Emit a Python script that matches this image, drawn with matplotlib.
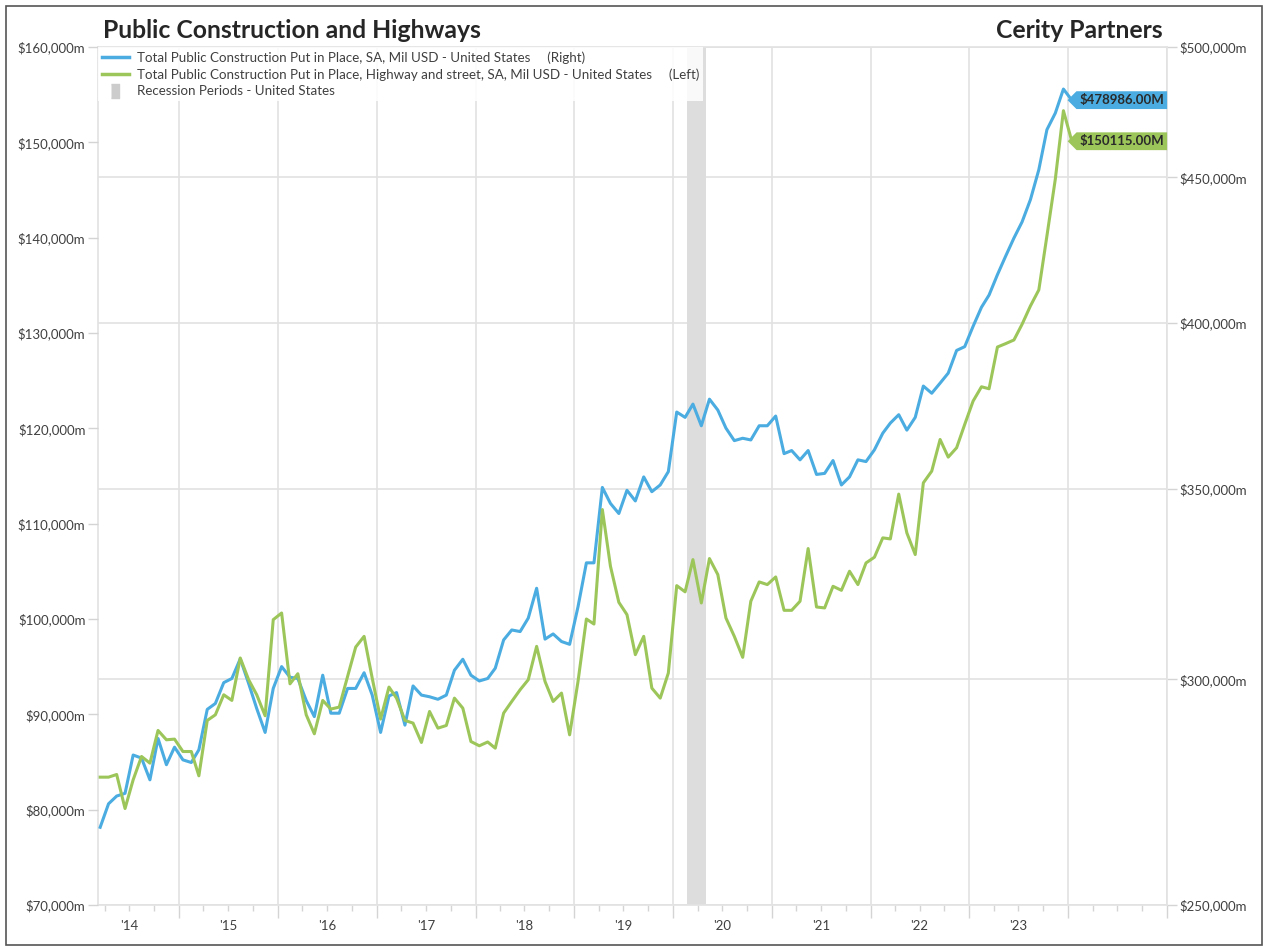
import numpy as np
import pandas as pd
import matplotlib
matplotlib.use('Agg')
import matplotlib.pyplot as plt
import matplotlib.dates as mdates
from matplotlib.lines import Line2D
from matplotlib.patches import Rectangle
from matplotlib.path import Path
from matplotlib.ticker import FixedLocator, FuncFormatter, NullFormatter, NullLocator

plt.rcParams['font.family'] = ['Lato', 'DejaVu Sans']

# monthly data, $ millions, first month Mar 2014
start_month = '2014-03-01'
total_public = [
    266200, 271300, 273000, 273600, 282200, 281500, 276600, 286000, 280000, 284000,
    281100, 280500, 283400, 292800, 294200, 299200, 300200, 305000, 299000, 293000,
    287400, 297800, 303100, 300500, 300200, 294900, 291100, 301000, 291900, 291900,
    297800, 297800, 301600, 296200, 287400, 296000, 296800, 289100, 298400, 296200,
    295800, 295200, 296200, 302200, 304900, 301000, 299600, 300200, 302700, 309700,
    312200, 311800, 315200, 322900, 309900, 311200, 309300, 308600, 318100, 329600,
    329600, 350300, 345800, 343000, 349500, 346500, 353300, 349100, 351000, 354800,
    372300, 370700, 374700, 368200, 376200, 372900, 367500, 363800, 364500, 364000,
    368200, 368200, 371100, 360000, 360900, 358200, 360900, 354000, 354300, 358000,
    351000, 353300, 358200, 357700, 361100, 366000, 369000, 371500, 366900, 370700,
    380200, 378000, 381100, 384200, 391300, 392500, 399000, 405200, 409200, 416000,
    422200, 428500, 434100, 442000, 452800, 467700, 474000, 483300, 478986]
highway_street = [
    83410, 83410, 83690, 80120, 83130, 85580, 84880, 88310, 87330, 87400,
    86100, 86100, 83550, 89360, 89950, 92050, 91460, 95910, 93630, 92050,
    89850, 99930, 100630, 93200, 94260, 89950, 87960, 91460, 90550, 90760,
    93980, 97060, 98180, 93800, 89500, 92860, 91700, 89360, 89080, 87050,
    90300, 88550, 88830, 91700, 90650, 87150, 86700, 87100, 86450, 90130,
    91350, 92580, 93630, 97130, 93450, 91350, 92230, 87850, 93450, 100000,
    99470, 111480, 105530, 101750, 100460, 96260, 98180, 92750, 91700, 94330,
    103500, 102850, 106230, 101680, 106340, 104660, 100110, 98180, 95980, 101860,
    103890, 103610, 104410, 100910, 100910, 101860, 107390, 101260, 101160, 103430,
    103010, 105010, 103610, 105880, 106480, 108510, 108400, 113100, 109030, 106760,
    114280, 115510, 118830, 116980, 117960, 120410, 122860, 124360, 124150, 128530,
    128880, 129270, 130910, 132840, 134520, 140190, 146140, 153320, 150115]
recession_start = '2020-02-22'
recession_end = '2020-05-04'

left_ticks = [70000, 80000, 90000, 100000, 110000, 120000, 130000, 140000, 150000, 160000]
right_ticks = [250000, 300000, 350000, 400000, 450000, 500000]

label_total = 'Total Public Construction Put in Place, SA, Mil USD - United States     (Right)'
label_highway = 'Total Public Construction Put in Place, Highway and street, SA, Mil USD - United States     (Left)'
label_recession = 'Recession Periods - United States'

blue = '#4aace0'
green = '#9dc65a'
grid_col = '#e2e2e2'
text_col = '#404040'

dates = pd.date_range(start_month, periods=len(total_public), freq='MS') + pd.Timedelta(days=14)


def tag_shape(x0, y0, width, height, mutation_size):
    # box with a pointed left side
    pad = 0.22 * mutation_size
    x0, y0 = x0 - pad, y0 - pad
    x1, y1 = x0 + width + 2 * pad, y0 + height + 2 * pad
    tip = 0.5 * (y1 - y0)
    return Path([(x0, y0), (x1, y0), (x1, y1), (x0, y1), (x0 - tip, (y0 + y1) / 2), (x0, y0)],
                closed=True)


fig = plt.figure(figsize=(12.68, 9.5), dpi=100)
ax = fig.add_axes([98 / 1268, 1 - 905 / 950, (1167 - 98) / 1268, (905 - 47) / 950])

# right axis (log) sits on the main axes so its grid stays under the lines
ax.axvspan(pd.Timestamp(recession_start), pd.Timestamp(recession_end), color='#dddddd', lw=0, zorder=1)
ax.plot(dates, total_public, color=blue, lw=2.2, zorder=3)
ax.set_yscale('log')
ax.set_ylim(250000, 500000)
ax.set_xlim(pd.Timestamp('2014-03-07'), pd.Timestamp('2025-01-01'))

ax2 = ax.twinx()
ax2.plot(dates, highway_street, color=green, lw=2.2, zorder=3)
ax2.set_ylim(70000, 160000)

ax.yaxis.tick_right()
ax2.yaxis.tick_left()

money = FuncFormatter(lambda v, pos: '${:,.0f}m'.format(v))
ax.yaxis.set_major_locator(FixedLocator(right_ticks))
ax.yaxis.set_minor_locator(NullLocator())
ax.yaxis.set_major_formatter(money)
ax.yaxis.set_minor_formatter(NullFormatter())
ax2.yaxis.set_major_locator(FixedLocator(left_ticks))
ax2.yaxis.set_major_formatter(money)

ax.grid(axis='y', color=grid_col, lw=1.2, zorder=0)
ax.grid(axis='x', which='major', color=grid_col, lw=1.2, zorder=0)
ax.set_axisbelow(True)


def year_label(v, pos):
    d = mdates.num2date(v)
    if d.month == 7 and d.replace(tzinfo=None) < dates[-1]:
        return "'" + d.strftime('%y')
    return ''


ax.xaxis.set_major_locator(mdates.YearLocator())
ax.xaxis.set_major_formatter(NullFormatter())
ax.xaxis.set_minor_locator(mdates.MonthLocator(bymonth=[4, 7, 10]))
ax.xaxis.set_minor_formatter(FuncFormatter(year_label))

ax.tick_params(axis='x', which='major', length=9, color='#d4d4d4', width=1)
ax.tick_params(axis='x', which='minor', length=4, color='#d4d4d4', width=1,
               labelsize=9.5, labelcolor=text_col, pad=7)
ax.tick_params(axis='y', length=7, color='#d4d4d4', width=1, labelsize=9.5, labelcolor=text_col, pad=2)
ax2.tick_params(axis='y', length=7, color='#d4d4d4', width=1, labelsize=9.5, labelcolor=text_col, pad=2)

for s in ax.spines.values():
    s.set_color(grid_col)
    s.set_linewidth(1.2)
for s in ax2.spines.values():
    s.set_visible(False)

# last value tags
ax.annotate('${:.2f}M'.format(total_public[-1]), xy=(1, total_public[-1]),
            xycoords=('axes fraction', 'data'), xytext=(-2, 0), textcoords='offset points',
            ha='right', va='center', fontsize=9.5, fontweight='bold', color='#2a2a2a',
            bbox=dict(boxstyle=tag_shape, fc=blue, ec='none'), annotation_clip=False, zorder=6)
ax2.annotate('${:.2f}M'.format(highway_street[-1]), xy=(1, highway_street[-1]),
             xycoords=('axes fraction', 'data'), xytext=(-2, 0), textcoords='offset points',
             ha='right', va='center', fontsize=9.5, fontweight='bold', color='#2a2a2a',
             bbox=dict(boxstyle=tag_shape, fc=green, ec='none'), annotation_clip=False, zorder=6)

handles = [Line2D([], [], color=blue, lw=2.5),
           Line2D([], [], color=green, lw=2.5),
           Line2D([], [], ls='none', marker=[(-0.3, -0.5), (0.3, -0.5), (0.3, 0.5), (-0.3, 0.5)],
                  markersize=10, color='#cccccc')]
leg = ax2.legend(handles, [label_total, label_highway, label_recession], loc='upper left',
                 bbox_to_anchor=(0, 1), fontsize=9.6, frameon=True, framealpha=0.85,
                 edgecolor='none', facecolor='white', fancybox=False, borderaxespad=0,
                 borderpad=0.3, labelspacing=0.35, handlelength=2.0, handletextpad=0.6)
for t in leg.get_texts():
    t.set_color(text_col)

fig.text(103 / 1268, 1 - 30 / 950, 'Public Construction and Highways', fontsize=17.8,
         fontweight='bold', color='#262626', ha='left', va='center')
fig.text(1163 / 1268, 1 - 30 / 950, 'Cerity Partners', fontsize=17.8,
         fontweight='bold', color='#262626', ha='right', va='center')

fig.patches.append(Rectangle((6 / 1268, 5 / 950), 1256 / 1268, 939 / 950, transform=fig.transFigure,
                             fill=False, ec='#555555', lw=1.2))

fig.savefig('out.png', dpi=100, facecolor='white')
